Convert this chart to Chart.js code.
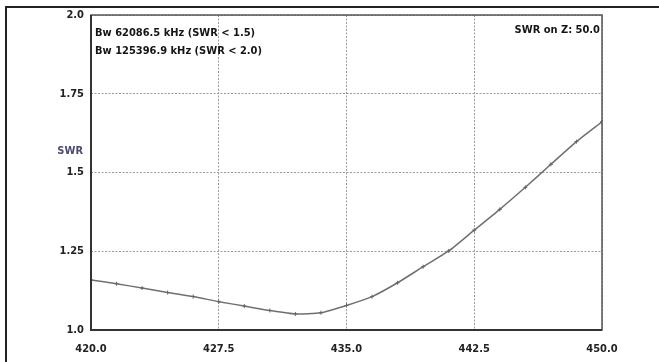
<!DOCTYPE html>
<html>
<head>
<meta charset="utf-8">
<script src="https://cdn.jsdelivr.net/npm/chart.js@4"></script>
<style>
html,body{margin:0;padding:0;background:#fff;}
#wrap{position:relative;width:659px;height:362px;}
#frame{position:absolute;left:5px;top:6px;right:-10px;bottom:-10px;border-top:2px solid #222;border-left:2px solid #222;pointer-events:none;}
canvas{position:absolute;left:0;top:0;}
</style>
</head>
<body>
<div id="wrap">
<canvas id="c" width="659" height="362"></canvas>
<div id="frame"></div>
</div>
<script>
const freqs = [420.0,421.5,423.0,424.5,426.0,427.5,429.0,430.5,432.0,433.5,435.0,436.5,438.0,439.5,441.0,442.5,444.0,445.5,447.0,448.5,450.0];
const swr = [1.159,1.147,1.133,1.119,1.106,1.090,1.076,1.062,1.051,1.055,1.078,1.106,1.150,1.201,1.251,1.317,1.383,1.453,1.526,1.598,1.661];
const xTickValues = [420.0,427.5,435.0,442.5,450.0];
const xTickLabels = ["420.0","427.5","435.0","442.5","450.0"];
const yTickValues = [1.0,1.25,1.5,1.75,2.0];
const yTickLabels = ["1.0","1.25","1.5","1.75","2.0"];
const infoLines = ["Bw 62086.5 kHz (SWR < 1.5)","Bw 125396.9 kHz (SWR < 2.0)"];
const zLabel = "SWR on Z: 50.0";
const yTitle = "SWR";

const FONT = '"DejaVu Sans Condensed","DejaVu Sans",sans-serif';

const overlay = {
  id:'overlay',
  afterDraw(chart){
    const {ctx, chartArea:a} = chart;
    ctx.save();
    ctx.strokeStyle = '#555';
    ctx.lineWidth = 1.5;
    ctx.strokeRect(a.left, a.top, a.right-a.left, a.bottom-a.top);
    ctx.lineWidth = 2;
    ctx.strokeStyle = '#333';
    ctx.beginPath();
    ctx.moveTo(a.left, a.top); ctx.lineTo(a.left, a.bottom); ctx.lineTo(a.right, a.bottom);
    ctx.stroke();
    ctx.fillStyle = '#151515';
    ctx.font = 'bold 11px ' + FONT;
    ctx.textBaseline = 'middle';
    ctx.textAlign = 'left';
    infoLines.forEach((t,i)=>ctx.fillText(t, a.left+4, a.top+18+i*18));
    ctx.textAlign = 'right';
    ctx.fillText(zLabel, a.right-2, a.top+15);
    ctx.fillStyle = '#4a4a72';
    ctx.textAlign = 'right';
    ctx.fillText(yTitle, a.left-8, chart.scales.y.getPixelForValue(1.5)-21);
    ctx.restore();
  }
};

new Chart(document.getElementById('c'), {
  type:'line',
  data:{
    datasets:[{
      data: freqs.map((f,i)=>({x:f,y:swr[i]})),
      borderColor:'#707070',
      borderWidth:1.5,
      pointStyle:'cross',
      pointRadius:2,
      pointBorderColor:'#666',
      pointBorderWidth:1,
      tension:0.2,
      fill:false
    }]
  },
  options:{
    responsive:false,
    animation:false,
    layout:{padding:{left:0,top:15,right:57,bottom:0}},
    plugins:{legend:{display:false},tooltip:{enabled:false}},
    scales:{
      x:{
        type:'linear', min:420, max:450,
        afterBuildTicks(s){ s.ticks = xTickValues.map(v=>({value:v})); },
        afterFit(s){ s.height = 32; },
        grid:{color:'#9a9a9a', lineWidth:1, drawTicks:false},
        border:{display:false, dash:[2,1.5]},
        ticks:{
          padding:13, color:'#222',
          font:{family:FONT, size:11, weight:'bold'},
          callback:(v)=>{const i=xTickValues.indexOf(v); return i>=0?xTickLabels[i]:'';},
          maxRotation:0, autoSkip:false
        }
      },
      y:{
        type:'linear', min:1, max:2,
        afterBuildTicks(s){ s.ticks = yTickValues.map(v=>({value:v})); },
        afterFit(s){ s.width = 91; },
        grid:{color:'#9a9a9a', lineWidth:1, drawTicks:false},
        border:{display:false, dash:[2,1.5]},
        ticks:{
          padding:7, color:'#222',
          font:{family:FONT, size:11, weight:'bold'},
          callback:(v)=>{const i=yTickValues.indexOf(v); return i>=0?yTickLabels[i]:'';},
          autoSkip:false
        }
      }
    }
  },
  plugins:[overlay]
});
</script>
</body>
</html>
